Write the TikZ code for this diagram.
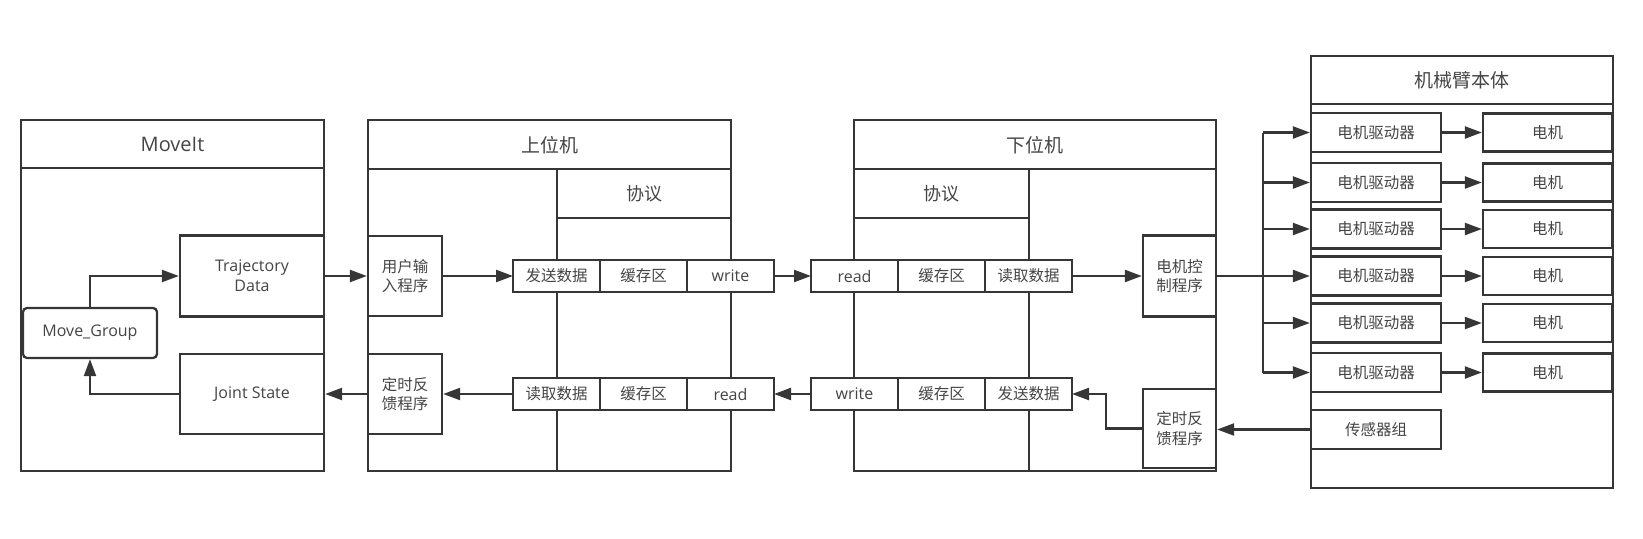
\documentclass[tikz,border=0pt]{standalone}
\usepackage{fontspec}
\setmainfont{Noto Sans CJK SC}
\newfontfamily\latfont{Open Sans}
\usetikzlibrary{arrows.meta,positioning}
\definecolor{ink}{HTML}{363636}
\definecolor{txt}{HTML}{454545}
\tikzset{
  frame/.style={draw=ink, line width=2.3pt},
  box/.style={draw=ink, line width=2.3pt, fill=white, inner sep=0pt, align=center,
    text=txt, font=\fontsize{15.5pt}{19.5pt}\selectfont},
  lat/.style={font=\latfont\fontsize{16pt}{20pt}\selectfont},
  cell/.style={box, minimum width=87pt, minimum height=32pt, outer sep=0pt},
  title/.style={text=txt, font=\fontsize{19pt}{22pt}\selectfont},
  arr/.style={draw=ink, line width=2.3pt, -{Triangle[length=17pt,width=12pt]}},
}
% one row of the protocol: name prefix, left x, y, three texts
\newcommand{\cellRow}[6]{
    \node[cell] (#1a) at (#2+43.5,#3) {#4};
    \node[cell, right=0pt of #1a] (#1b) {#5};
    \node[cell, right=0pt of #1b] (#1c) {#6};
}
% one driver and its motor
\newcommand{\driverRow}[2]{
    \node[box, minimum width=130pt, minimum height=39pt] (drv#1) at (1376,#2) {电机驱动器};
    \node[box, minimum width=129pt, minimum height=38pt] (mot#1) at (1547.5,#2) {电机};
    \draw[arr] (fork |- drv#1.west) -- (drv#1.west);
    \draw[arr] (drv#1) -- (mot#1);
}
\begin{document}
\begin{tikzpicture}[x=1pt,y=-1pt]
    \useasboundingbox (0,0) rectangle (1643,538);

    % MoveIt
    \draw[frame] (21,120) rectangle (324,471);
    \draw[frame] (21,168) -- (324,168);
    \node[title] (moveit) at (172.5,144) {\latfont\fontsize{20pt}{22pt}\selectfont MoveIt};
    \node[box, lat, minimum width=144pt, minimum height=81pt] (traj) at (252,276) {Trajectory\\Data};
    \node[box, lat, minimum width=144pt, minimum height=80pt] (joint) at (252,394) {Joint State};
    \node[box, lat, rounded corners=4pt, minimum width=134pt, minimum height=50pt] (mgroup) at (90,333) {Move\_Group};

    % upper computer
    \draw[frame] (368,120) rectangle (731,471);
    \draw[frame] (368,169) -- (731,169);
    \node[title] (upper) at (549.5,145) {上位机};
    \draw[frame] (557,169) -- (557,471);
    \draw[frame] (557,218) -- (731,218);
    \node[title, font=\fontsize{18pt}{22pt}\selectfont] (upProto) at (644,193.5) {协议};
    \node[box, minimum width=74pt, minimum height=80pt] (usrIn) at (405,276) {用户输\\入程序};
    \node[box, minimum width=74pt, minimum height=80pt] (upFb) at (405,394) {定时反\\馈程序};
    \cellRow{upW}{513}{276}{发送数据}{缓存区}{\latfont\fontsize{16pt}{20pt}\selectfont write}
    \cellRow{upR}{513}{394}{读取数据}{缓存区}{\latfont\fontsize{16pt}{20pt}\selectfont read}

    % lower computer
    \draw[frame] (854,120) rectangle (1216,471);
    \draw[frame] (854,169) -- (1216,169);
    \node[title] (lower) at (1035,145) {下位机};
    \draw[frame] (1029,169) -- (1029,471);
    \draw[frame] (854,218) -- (1029,218);
    \node[title, font=\fontsize{18pt}{22pt}\selectfont] (lowProto) at (941,193.5) {协议};
    \node[box, minimum width=73pt, minimum height=81pt] (motorCtl) at (1179.5,276) {电机控\\制程序};
    \node[box, minimum width=73pt, minimum height=79pt] (lowFb) at (1179.5,428.5) {定时反\\馈程序};
    \cellRow{lowR}{811}{276}{\latfont\fontsize{16pt}{20pt}\selectfont read}{缓存区}{读取数据}
    \cellRow{lowW}{811}{394}{\latfont\fontsize{16pt}{20pt}\selectfont write}{缓存区}{发送数据}

    % arm body
    \draw[frame] (1311,56) rectangle (1613,488);
    \draw[frame] (1311,104) -- (1613,104);
    \node[title] (arm) at (1462,80) {机械臂本体};
    \node[box, minimum width=130pt, minimum height=39pt] (sensor) at (1376,429.5) {传感器组};

    % data going down
    \draw[arr] (mgroup.north) |- (traj.west);
    \draw[arr] (traj.east) -- (usrIn.west);
    \draw[arr] (usrIn.east) -- (upWa.west);
    \draw[arr] (upWc.east) -- (lowRa.west);
    \draw[arr] (lowRc.east) -- (motorCtl.west);
    \coordinate (fork) at (1263,276);
    \draw[frame] (motorCtl.east) -- (fork);
    \draw[frame] (1263,132.5) -- (1263,372.5);
    \driverRow{1}{132.5}
    \driverRow{2}{182.5}
    \driverRow{3}{229}
    \driverRow{4}{276}
    \driverRow{5}{323}
    \driverRow{6}{372.5}

    % feedback going up
    \draw[arr] (sensor.west) -- (lowFb.east |- sensor.west);
    \draw[arr] (lowFb.west) -- ++(-36,0) |- (lowWc.east);
    \draw[arr] (lowWa.west) -- (upRc.east);
    \draw[arr] (upRa.west) -- (upFb.east);
    \draw[arr] (upFb.west) -- (joint.east);
    \draw[arr] (joint.west) -| (mgroup.south);
\end{tikzpicture}
\end{document}
